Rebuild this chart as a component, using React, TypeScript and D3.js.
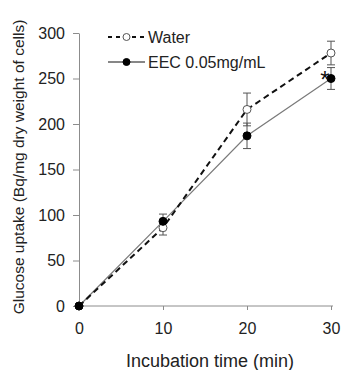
import { useRef, useEffect } from 'react';
import * as d3 from 'd3';

const times = [0, 10, 20, 30];
const waterMean = [0, 86, 216, 278];
const waterErr = [0, 8, 18, 13];
const eecMean = [0, 93, 187, 250];
const eecErr = [0, 8, 14, 12];
const xTicks = [0, 10, 20, 30];
const yTicks = [0, 50, 100, 150, 200, 250, 300];
const sigIndex = [3];

const App = () => {
  const svgRef = useRef<SVGSVGElement>(null);

  useEffect(() => {
    const svg = d3.select(svgRef.current);
    svg.selectAll('*').remove();

    const x = d3.scaleLinear([0, 30], [79, 331]);
    const y = d3.scaleLinear([0, 300], [306, 33]);
    const font = 'Liberation Sans, Arial, sans-serif';
    const axisColor = '#8c8c8c';

    // y axis
    svg
      .append('g')
      .attr('transform', 'translate(79,0)')
      .call(d3.axisLeft(y).tickValues(yTicks).tickSize(6).tickSizeOuter(0).tickPadding(8))
      .call((g) => g.select('.domain').attr('stroke', axisColor))
      .call((g) => g.selectAll('.tick line').attr('stroke', axisColor))
      .call((g) =>
        g.selectAll('.tick text').attr('font-size', 16).attr('font-family', font).attr('fill', '#222')
      );

    // x axis
    svg
      .append('g')
      .attr('transform', 'translate(0,306)')
      .call(d3.axisBottom(x).tickValues(xTicks).tickSize(4).tickSizeOuter(0).tickPadding(13))
      .call((g) => g.select('.domain').attr('stroke', axisColor).attr('d', 'M79,0H333'))
      .call((g) => g.selectAll('.tick line').attr('stroke', axisColor))
      .call((g) =>
        g.selectAll('.tick text').attr('font-size', 16).attr('font-family', font).attr('fill', '#222')
      );

    svg
      .append('text')
      .attr('x', 210)
      .attr('y', 367)
      .attr('text-anchor', 'middle')
      .attr('font-size', 18)
      .attr('font-family', font)
      .attr('fill', '#222')
      .text('Incubation time (min)');

    svg
      .append('text')
      .attr('transform', `translate(24,167) rotate(-90)`)
      .attr('text-anchor', 'middle')
      .attr('font-size', 15.5)
      .attr('font-family', font)
      .attr('fill', '#222')
      .text('Glucose uptake (Bq/mg dry weight of cells)');

    const series = [
      { mean: eecMean, err: eecErr, dash: null, stroke: '#7a7a7a', sw: 1.2, fill: '#000' },
      { mean: waterMean, err: waterErr, dash: '6,4', stroke: '#111', sw: 2, fill: '#fff' },
    ];

    series.forEach((s) => {
      // error bars
      const eb = svg.append('g').attr('stroke', '#555').attr('stroke-width', 1);
      times.forEach((t, i) => {
        if (!s.err[i]) return;
        const cx = x(t);
        const y1 = y(s.mean[i] + s.err[i]);
        const y2 = y(s.mean[i] - s.err[i]);
        eb.append('line').attr('x1', cx).attr('x2', cx).attr('y1', y1).attr('y2', y2);
        eb.append('line').attr('x1', cx - 4).attr('x2', cx + 4).attr('y1', y1).attr('y2', y1);
        eb.append('line').attr('x1', cx - 4).attr('x2', cx + 4).attr('y1', y2).attr('y2', y2);
      });

      const line = d3
        .line<number>()
        .x((_, i) => x(times[i]))
        .y((d) => y(d));
      svg
        .append('path')
        .attr('fill', 'none')
        .attr('stroke', s.stroke)
        .attr('stroke-width', s.sw)
        .attr('stroke-dasharray', s.dash)
        .attr('d', line(s.mean));
    });

    series
      .slice()
      .reverse()
      .forEach((s) => {
        svg
          .append('g')
          .selectAll('circle')
          .data(s.mean)
          .join('circle')
          .attr('cx', (_, i) => x(times[i]))
          .attr('cy', (d) => y(d))
          .attr('r', 4)
          .attr('fill', s.fill)
          .attr('stroke', s.fill === '#fff' ? '#555' : '#000')
          .attr('stroke-width', 1);
      });

    // legend
    const legend = [
      { label: 'Water', dash: '4,4', stroke: '#111', sw: 1.8, fill: '#fff', y: 37 },
      { label: 'EEC 0.05mg/mL', dash: null, stroke: '#111', sw: 1.2, fill: '#000', y: 62 },
    ];
    legend.forEach((l) => {
      const g = svg.append('g');
      g.append('line')
        .attr('x1', 108)
        .attr('x2', 145)
        .attr('y1', l.y)
        .attr('y2', l.y)
        .attr('stroke', l.stroke)
        .attr('stroke-width', l.sw)
        .attr('stroke-dasharray', l.dash);
      g.append('circle')
        .attr('cx', 126.5)
        .attr('cy', l.y)
        .attr('r', 3.5)
        .attr('fill', l.fill)
        .attr('stroke', l.fill === '#fff' ? '#555' : '#000');
      g.append('text')
        .attr('x', 148)
        .attr('y', l.y + 6)
        .attr('font-size', 16)
        .attr('font-family', font)
        .attr('fill', '#222')
        .text(l.label);
    });

    // significance marker
    sigIndex.forEach((i) => {
      svg
        .append('text')
        .attr('x', x(times[i]) - 6)
        .attr('y', y(eecMean[i]) + 9)
        .attr('text-anchor', 'middle')
        .attr('font-size', 24)
        .attr('font-family', font)
        .attr('fill', '#111')
        .text('*');
    });
  }, []);

  return (
    <svg
      ref={svgRef}
      width={345}
      height={370}
      style={{ position: 'absolute', left: 0, top: 0, background: '#fff' }}
    />
  );
};

export default App;
